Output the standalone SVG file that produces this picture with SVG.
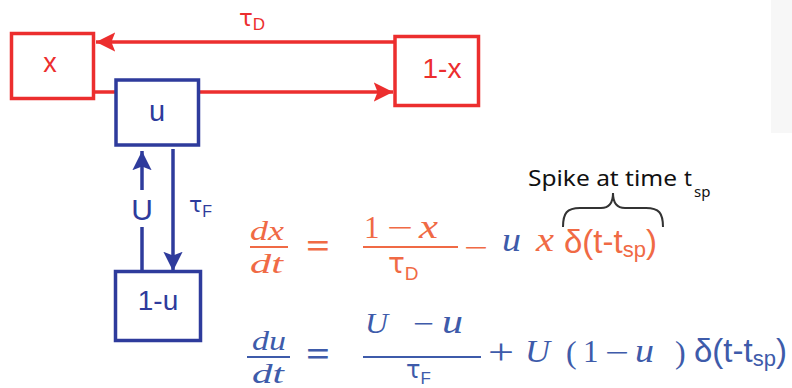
<svg xmlns="http://www.w3.org/2000/svg" width="792" height="388" viewBox="0 0 792 388">
<style>
.box{fill:#fff;stroke-width:3.5}
.red{stroke:#EC2E2E}
.blue{stroke:#2E3B9C}
.lbl{font-family:"Liberation Sans",Arial,sans-serif;text-anchor:middle}
.ser{font-family:"Liberation Serif","Times New Roman",serif}
.it{font-style:italic}
.sans{font-family:"Liberation Sans",Arial,sans-serif}
.tau{font-family:"DejaVu Sans","Liberation Sans",sans-serif}
.sub{font-family:"Liberation Sans",Arial,sans-serif}
.eqo{fill:#F06A45}
.eqb{fill:#3E5BAA}
.line{fill:none;stroke-width:3.5}
.sp{font-family:"Noto Sans","Open Sans",sans-serif;fill:#111}
</style>
<defs>
<marker id="ahr" viewBox="0 0 10 10" refX="10" refY="5" markerWidth="5.5" markerHeight="5.5" orient="auto" markerUnits="strokeWidth">
<path d="M0,0 L10,5 L0,10 L2,5 Z" fill="#EC2E2E"/>
</marker>
<marker id="ahb" viewBox="0 0 10 10" refX="10" refY="5" markerWidth="5.5" markerHeight="5.5" orient="auto" markerUnits="strokeWidth">
<path d="M0,0 L10,5 L0,10 L2,5 Z" fill="#2E3B9C"/>
</marker>
</defs>
<rect x="771" y="0" width="21" height="133" fill="#F7F7F7"/>
<g id="connectors">
<line class="line red" x1="395" y1="42" x2="96" y2="42" marker-end="url(#ahr)"/>
<line class="line red" x1="93" y1="92" x2="393" y2="92" marker-end="url(#ahr)"/>
<line class="line blue" x1="142" y1="271" x2="142" y2="227"/>
<line class="line blue" x1="142" y1="190" x2="142" y2="151" marker-end="url(#ahb)"/>
<line class="line blue" x1="173" y1="149" x2="173" y2="271" marker-end="url(#ahb)"/>
<text class="tau" x="239" y="26" fill="#EC2E2E" font-size="23">τ<tspan class="sub" font-size="17" dy="4">D</tspan></text>
<text class="lbl" x="142" y="220" fill="#2E3B9C" font-size="30">U</text>
<text class="tau" x="189" y="212" fill="#2E3B9C" font-size="22">τ<tspan class="sub" font-size="16" dy="5">F</tspan></text>
</g>
<g id="node-x">
<rect class="box red" x="11.5" y="33.5" width="82" height="65"/>
<text class="lbl" x="50" y="72" fill="#EC2E2E" font-size="27">x</text>
</g>
<g id="node-1x">
<rect class="box red" x="395" y="36.5" width="83.5" height="69"/>
<text class="lbl" x="442" y="78" fill="#EC2E2E" font-size="28">1-x</text>
</g>
<g id="node-u">
<rect class="box blue" x="116" y="80" width="82.5" height="65"/>
<text class="lbl" x="157" y="121" fill="#2E3B9C" font-size="29">u</text>
</g>
<g id="node-1u">
<rect class="box blue" x="115.5" y="271.5" width="85" height="69"/>
<text class="lbl" x="158" y="310" fill="#2E3B9C" font-size="28">1-u</text>
</g>
<g id="eq1">
<text class="ser it eqo" x="250" y="240" font-size="27" textLength="34" lengthAdjust="spacingAndGlyphs">dx</text>
<line x1="250" y1="247" x2="288" y2="247" stroke="#F06A45" stroke-width="2"/>
<text class="ser it eqo" x="250" y="273" font-size="27" textLength="33" lengthAdjust="spacingAndGlyphs">dt</text>
<text class="ser eqo" x="306" y="258" font-size="36" font-weight="bold" textLength="24" lengthAdjust="spacingAndGlyphs">=</text>
<text class="ser eqo" x="364" y="238" font-size="31">1</text>
<text class="ser eqo" x="387" y="238" font-size="31" textLength="26" lengthAdjust="spacingAndGlyphs">−</text>
<text class="ser it eqo" x="419" y="238" font-size="33" textLength="19" lengthAdjust="spacingAndGlyphs">x</text>
<line x1="363" y1="247" x2="458" y2="247" stroke="#F06A45" stroke-width="2"/>
<text class="tau eqo" x="388" y="273" font-size="28">τ<tspan class="sub" font-size="19" dy="7">D</tspan></text>
<text class="ser eqo" x="464" y="258" font-size="31" textLength="24" lengthAdjust="spacingAndGlyphs">−</text>
<text class="ser it eqb" x="502" y="251" font-size="33" textLength="19" lengthAdjust="spacingAndGlyphs">u</text>
<text class="ser it eqo" x="536" y="251" font-size="33" textLength="18" lengthAdjust="spacingAndGlyphs">x</text>
<text class="sans eqo" x="564" y="253" font-size="33">δ(t-t<tspan font-size="22" dy="4">sp</tspan><tspan dy="-4">)</tspan></text>
<path d="M563,227 C563,213 567,208 580,208 L601,208 C609,208 613,203 613,193 C613,203 617,208 625,208 L646,208 C659,208 663,213 663,227" fill="none" stroke="#333" stroke-width="2"/>
<text class="sp" x="528" y="186" font-size="22" textLength="149" lengthAdjust="spacingAndGlyphs">Spike at time</text>
<text class="sp" x="684" y="186" font-size="22">t</text>
<text class="sp" x="694" y="197" font-size="15">sp</text>
</g>
<g id="eq2">
<text class="ser it eqb" x="252" y="350" font-size="27" textLength="34" lengthAdjust="spacingAndGlyphs">du</text>
<line x1="247" y1="357" x2="290" y2="357" stroke="#3E5BAA" stroke-width="2"/>
<text class="ser it eqb" x="252" y="383" font-size="27" textLength="32" lengthAdjust="spacingAndGlyphs">dt</text>
<text class="ser eqb" x="306" y="366" font-size="36" font-weight="bold" textLength="24" lengthAdjust="spacingAndGlyphs">=</text>
<text class="ser it eqb" x="365" y="333" font-size="30" textLength="23" lengthAdjust="spacingAndGlyphs">U</text>
<text class="ser eqb" x="413" y="334" font-size="31" textLength="21" lengthAdjust="spacingAndGlyphs">−</text>
<text class="ser it eqb" x="442" y="333" font-size="33" textLength="21" lengthAdjust="spacingAndGlyphs">u</text>
<line x1="363" y1="357" x2="481" y2="357" stroke="#3E5BAA" stroke-width="2"/>
<text class="tau eqb" x="406" y="378" font-size="24">τ<tspan class="sub" font-size="17" dy="6">F</tspan></text>
<text class="ser eqb" x="488" y="364" font-size="36" textLength="26" lengthAdjust="spacingAndGlyphs">+</text>
<text class="ser it eqb" x="525" y="362" font-size="31" textLength="25" lengthAdjust="spacingAndGlyphs">U</text>
<text class="ser eqb" x="566" y="363" font-size="32">(</text>
<text class="ser eqb" x="583" y="362" font-size="31">1</text>
<text class="ser eqb" x="605" y="363" font-size="31" textLength="24" lengthAdjust="spacingAndGlyphs">−</text>
<text class="ser it eqb" x="635" y="362" font-size="33" textLength="19" lengthAdjust="spacingAndGlyphs">u</text>
<text class="ser eqb" x="675" y="363" font-size="32">)</text>
<text class="sans eqb" x="694" y="362" font-size="33">δ(t-t<tspan font-size="22" dy="4">sp</tspan><tspan dy="-4">)</tspan></text>
</g>
</svg>
